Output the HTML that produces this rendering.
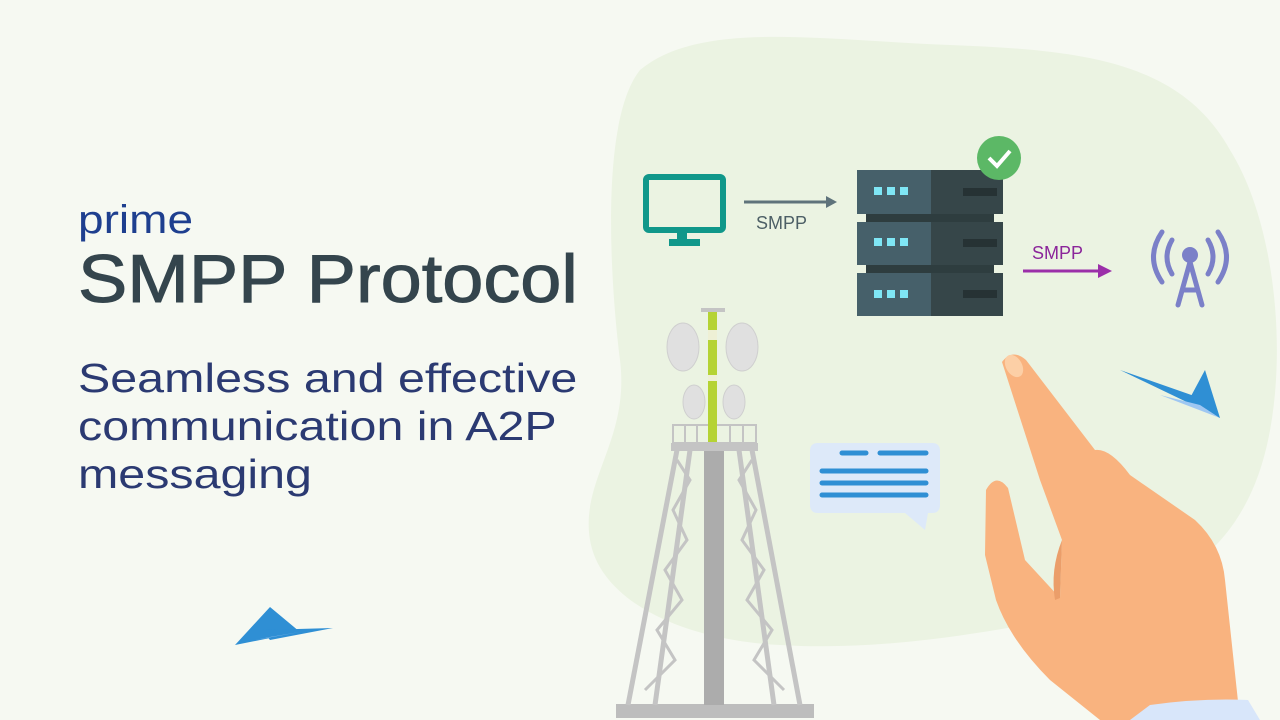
<!DOCTYPE html>
<html><head><meta charset="utf-8"><style>
html,body{margin:0;padding:0;width:1280px;height:720px;overflow:hidden;background:#f6f9f2}
svg{position:absolute;left:0;top:0}
.t{position:absolute;left:78px;font-family:"Liberation Sans",sans-serif;white-space:nowrap;transform-origin:0 0}
</style></head><body>
<svg width="1280" height="720" viewBox="0 0 1280 720">
<path d="M640 70 C700 20 820 40 950 45 C1080 50 1180 60 1230 150 C1280 230 1290 380 1260 470 C1230 560 1160 600 1050 620 C950 640 860 650 780 645 C680 640 600 600 590 540 C580 480 630 440 620 360 C610 280 600 120 640 70 Z" fill="#ebf3e2"/>
<rect x="646" y="177" width="77" height="53" rx="3" fill="none" stroke="#10978a" stroke-width="6"/>
<rect x="677" y="230" width="10" height="10" fill="#10978a"/>
<rect x="669" y="239" width="31" height="7" fill="#10978a"/>
<line x1="744" y1="202" x2="828" y2="202" stroke="#5f737b" stroke-width="3"/>
<polygon points="826,196 837,202 826,208" fill="#5f737b"/>
<text x="756" y="229" font-family="Liberation Sans,sans-serif" font-size="18" fill="#4d5f66">SMPP</text>
<g>
<rect x="866" y="208" width="128" height="14" fill="#2e3d3f"/>
<rect x="866" y="260" width="128" height="14" fill="#2e3d3f"/>
<rect x="857" y="170" width="74" height="44" fill="#46606a"/><rect x="931" y="170" width="72" height="44" fill="#364649"/>
<rect x="857" y="222" width="74" height="43" fill="#46606a"/><rect x="931" y="222" width="72" height="43" fill="#364649"/>
<rect x="857" y="273" width="74" height="43" fill="#46606a"/><rect x="931" y="273" width="72" height="43" fill="#364649"/>
<g fill="#7fe6f5">
<rect x="874" y="187" width="8" height="8"/><rect x="887" y="187" width="8" height="8"/><rect x="900" y="187" width="8" height="8"/>
<rect x="874" y="238" width="8" height="8"/><rect x="887" y="238" width="8" height="8"/><rect x="900" y="238" width="8" height="8"/>
<rect x="874" y="290" width="8" height="8"/><rect x="887" y="290" width="8" height="8"/><rect x="900" y="290" width="8" height="8"/>
</g>
<g fill="#263234"><rect x="963" y="188" width="34" height="8"/><rect x="963" y="239" width="34" height="8"/><rect x="963" y="290" width="34" height="8"/></g>
</g>
<circle cx="999" cy="158" r="22" fill="#5cb866"/>
<polyline points="989,158 997,166 1010,151" fill="none" stroke="#fff" stroke-width="4"/>
<text x="1032" y="259" font-family="Liberation Sans,sans-serif" font-size="18" fill="#8b259a">SMPP</text>
<line x1="1023" y1="271" x2="1100" y2="271" stroke="#9b2fa9" stroke-width="3"/>
<polygon points="1098,264 1112,271 1098,278" fill="#9b2fa9"/>
<g stroke="#7b80c8" stroke-width="5" fill="none" stroke-linecap="round">
<path d="M1162 232 Q1145 257 1162 282"/><path d="M1172 240 Q1162 257 1172 274"/>
<path d="M1218 232 Q1235 257 1218 282"/><path d="M1208 240 Q1218 257 1208 274"/>
<path d="M1178 305 L1190 262 L1202 305 M1183 290 L1197 290"/>
</g>
<circle cx="1190" cy="255" r="8" fill="#7b80c8"/>
<polygon points="1120,370 1200,398 1220,418" fill="#2f8fd4"/>
<polygon points="1160,395 1200,405 1220,418" fill="#9fc7f2"/>
<polygon points="1205,370 1190,398 1220,418" fill="#2f8fd4"/>
<polygon points="270,607 235,645 300,632" fill="#2f8fd4"/>
<polygon points="262,630 333,628 270,640" fill="#2f8fd4"/>
<polygon points="255,640 300,632 270,637" fill="#9fc7f2"/>
<g>
<rect x="616" y="704" width="198" height="14" fill="#bdbdbd"/>
<rect x="704" y="450" width="20" height="255" fill="#acacac"/>
<g stroke="#c4c4c4" stroke-width="5" fill="none">
<line x1="677" y1="450" x2="628" y2="705"/><line x1="690" y1="450" x2="655" y2="705"/>
<line x1="752" y1="450" x2="800" y2="705"/><line x1="739" y1="450" x2="774" y2="705"/>
<polyline stroke-width="3" points="677,460 690,480 673,510 687,540 665,570 682,600 657,630 675,660 645,690"/>
<polyline stroke-width="3" points="752,460 739,480 756,510 742,540 764,570 747,600 772,630 754,660 784,690"/>
<rect x="673" y="425" width="83" height="18" stroke-width="2"/>
<line x1="685" y1="425" x2="685" y2="443" stroke-width="2"/><line x1="697" y1="425" x2="697" y2="443" stroke-width="2"/><line x1="730" y1="425" x2="730" y2="443" stroke-width="2"/><line x1="743" y1="425" x2="743" y2="443" stroke-width="2"/>
</g>
<rect x="671" y="443" width="87" height="8" fill="#c4c4c4"/>
<rect x="708" y="312" width="9" height="130" fill="#b5d334"/>
<rect x="708" y="330" width="9" height="10" fill="#eef0d5"/>
<rect x="708" y="375" width="9" height="6" fill="#eef0d5"/>
<rect x="701" y="308" width="24" height="4" fill="#c4c4c4"/>
<g fill="#e0e0e0" stroke="#cfcfcf" stroke-width="1">
<ellipse cx="683" cy="347" rx="16" ry="24"/><ellipse cx="742" cy="347" rx="16" ry="24"/>
<ellipse cx="694" cy="402" rx="11" ry="17"/><ellipse cx="734" cy="402" rx="11" ry="17"/>
</g>
</g>
<path d="M818 443 H932 Q940 443 940 451 V505 Q940 513 932 513 H928 L925 530 L905 513 H818 Q810 513 810 505 V451 Q810 443 818 443Z" fill="#dde9f9"/>
<g stroke="#2f8fd4" stroke-width="5" stroke-linecap="round">
<line x1="842" y1="453" x2="866" y2="453"/><line x1="880" y1="453" x2="926" y2="453"/>
<line x1="822" y1="471" x2="926" y2="471"/><line x1="822" y1="483" x2="926" y2="483"/><line x1="822" y1="495" x2="926" y2="495"/>
</g>
<path d="M1002 362 Q1012 348 1026 360 L1095 450 Q1110 448 1130 475 L1195 520 Q1222 545 1225 580 L1240 720 H1100 L1050 680 Q1010 640 996 600 L985 555 L986 490 Q996 472 1008 488 L1025 560 L1060 598 L1062 540 L1040 480 Z" fill="#f9b37f"/>
<path d="M1062 540 L1060 598 L1055 600 Q1050 570 1062 540Z" fill="#eb9e6a"/>
<path d="M1150 705 Q1200 698 1248 700 L1260 720 H1130Z" fill="#d8e6fa"/>
<ellipse cx="1014" cy="366" rx="8" ry="12" fill="#fccfa6" transform="rotate(-30 1014 366)"/>
</svg>
<div class="t" style="top:198px;font-size:40px;color:#1e3f8f;transform:scaleX(1.15)">prime</div>
<div class="t" style="top:240px;font-size:68px;color:#34454d;transform:scaleX(1.087);-webkit-text-stroke:1px #34454d">SMPP Protocol</div>
<div class="t" style="top:354px;font-size:41px;line-height:48px;color:#2b3a72;transform:scaleX(1.18)">Seamless and effective<br>communication in A2P<br>messaging</div>
</body></html>
